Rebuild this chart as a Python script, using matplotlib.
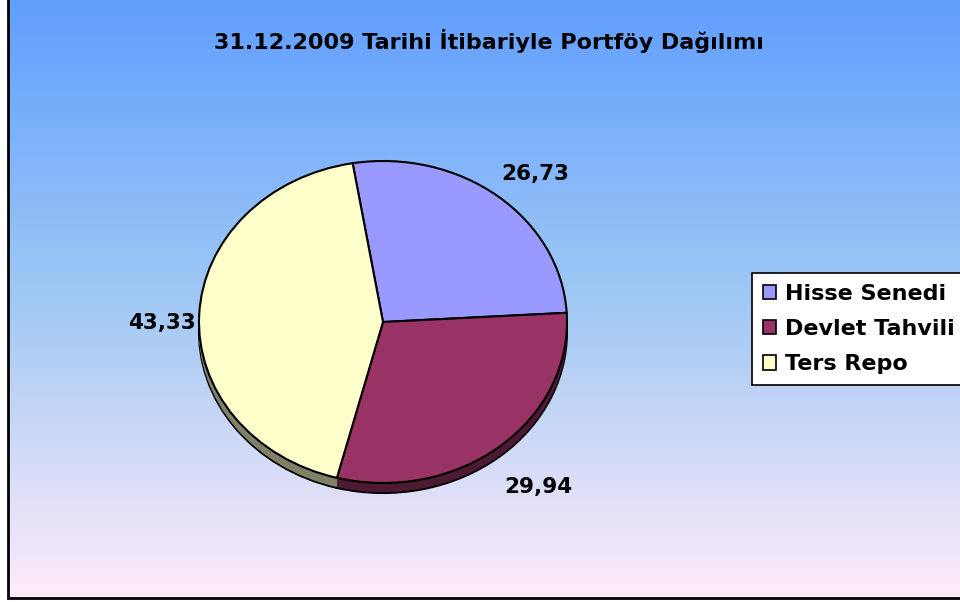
import numpy as np
import matplotlib
matplotlib.use('Agg')
import matplotlib.pyplot as plt
from matplotlib.patches import Rectangle
from matplotlib.colors import to_rgb

# data
categories = ['Hisse Senedi', 'Devlet Tahvili', 'Ters Repo']
values = [26.73, 29.94, 43.33]
value_labels = ['26,73', '29,94', '43,33']
colors = ['#9999FF', '#993366', '#FFFFCC']
title = '31.12.2009 Tarihi İtibariyle Portföy Dağılımı'

plt.rcParams['font.family'] = ['DejaVu Sans']

W, H = 960, 602
fig = plt.figure(figsize=(W / 100, H / 100), dpi=100)
fig.patch.set_facecolor('white')

# background gradient + frame
bg = fig.add_axes([0, 0, 1, 1])
bg.set_xlim(0, W)
bg.set_ylim(H, 0)
bg.axis('off')
stops = [(0.0, (96, 158, 255)), (0.5, (160, 200, 244)), (1.0, (255, 236, 250))]
t = np.linspace(0, 1, 300)
grad = np.zeros((300, 1, 3))
for c in range(3):
    grad[:, 0, c] = np.interp(t, [s[0] for s in stops], [s[1][c] / 255 for s in stops])
bg.imshow(grad, aspect='auto', extent=(8, W + 2, 598, -2), interpolation='bilinear', zorder=0)
bg.add_patch(Rectangle((8, -5), W, 603, fill=False, edgecolor='black', lw=2, zorder=1))

# pie axes, unit circle -> 184 x 161 px ellipse centred at (383, 322)
cx, cy, rx, ry = 383, 322, 184, 161
ax = fig.add_axes([0, 0, 1, 1])
ax.patch.set_alpha(0)

start = 99.5
depth = 10 / ry


def darker(col, f):
    r, g, b = to_rgb(col)
    return (r * f, g * f, b * f)


side_cols = [darker(c, 0.5) for c in colors]
# bottom of the slab with outline
ax.pie(values, colors=side_cols, startangle=start, counterclock=False, center=(0, -depth),
       wedgeprops=dict(edgecolor='black', linewidth=1.5))
# fill the side
for k in np.linspace(-depth, 0, 12)[1:]:
    ax.pie(values, colors=side_cols, startangle=start, counterclock=False, center=(0, k),
           wedgeprops=dict(edgecolor='none', linewidth=0))
wedges, texts = ax.pie(values, colors=colors, startangle=start, counterclock=False,
                       labels=value_labels, labeldistance=1.25,
                       wedgeprops=dict(edgecolor='black', linewidth=1.5),
                       textprops=dict(fontsize=15.5, fontweight='bold', color='black'))
for tx in texts:
    tx.set_ha('center')
    tx.set_va('center')
    x, y = tx.get_position()
    tx.set_position((x + 0.05, y - 0.06))

ax.set_aspect('auto')
ax.set_xlim(-cx / rx, (W - cx) / rx)
ax.set_ylim(-(H - cy) / ry, cy / ry)
ax.axis('off')

fig.text(489 / W, 1 - 41 / H, title, ha='center', va='center', fontsize=16, fontweight='bold')

leg = fig.legend(wedges, categories, loc='upper left', bbox_to_anchor=(752 / W, 1 - 273 / H),
                 frameon=True, fancybox=False, shadow=False, framealpha=1,
                 prop=dict(weight='bold', size=16), handlelength=0.6, handleheight=0.6,
                 handletextpad=0.4, labelspacing=0.68, borderpad=0.5, borderaxespad=0)
leg.get_frame().set_edgecolor('black')
leg.get_frame().set_facecolor('white')
leg.get_frame().set_linewidth(1.2)
for h in leg.legend_handles:
    h.set_edgecolor('black')
    h.set_linewidth(1.2)

fig.savefig('out.png', dpi=100)
